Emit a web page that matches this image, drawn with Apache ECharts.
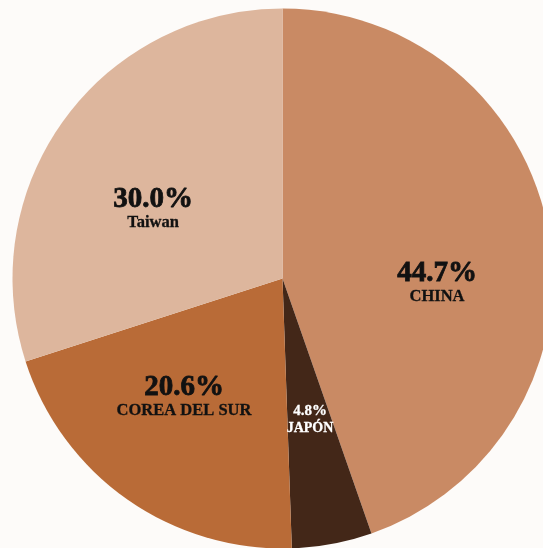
<!DOCTYPE html>
<html>
<head>
<meta charset="utf-8">
<script src="https://cdn.jsdelivr.net/npm/echarts@6/dist/echarts.min.js"></script>
<style>
html,body{margin:0;padding:0;background:#FDFBF9;}
#c{width:543px;height:548px;}
</style>
</head>
<body>
<div id="c"></div>
<script>
const categories = ['CHINA', 'JAPÓN', 'COREA DEL SUR', 'Taiwan'];
const values = [44.7, 4.8, 20.6, 30.0];

const colors = ['#C98A64', '#432718', '#B96B37', '#DDB69D'];
const labelPos = [[437, 283], [310, 419], [184, 397], [153, 209]];

const chart = echarts.init(document.getElementById('c'), null, {renderer: 'canvas'});
const serif = '"Liberation Serif", "Times New Roman", serif';
chart.setOption({
  backgroundColor: '#FDFBF9',
  animation: false,
  series: [{
    type: 'pie',
    center: [282.5, 278.5],
    radius: 270,
    startAngle: 90,
    clockwise: true,
    avoidLabelOverlap: false,
    data: categories.map((n, i) => ({
      name: n,
      value: values[i],
      itemStyle: {color: colors[i]},
      label: i === 1 ? {
        rich: {
          p: {fontFamily: serif, fontWeight: 'bold', fontSize: 15, color: '#FFFFFF', lineHeight: 18, align: 'center', textBorderColor: '#FFFFFF', textBorderWidth: 0.3},
          n: {fontFamily: serif, fontWeight: 'bold', fontSize: 14, color: '#FFFFFF', lineHeight: 16, align: 'center', textBorderColor: '#FFFFFF', textBorderWidth: 0.3}
        }
      } : undefined
    })),
    label: {
      show: true,
      position: 'inside',
      formatter: p => '{p|' + p.value.toFixed(1) + '%}\n{n|' + p.name + '}',
      rich: {
        p: {fontFamily: serif, fontWeight: 'bold', fontSize: 29, color: '#111111', lineHeight: 28, align: 'center', textBorderColor: '#111111', textBorderWidth: 0.8},
        n: {fontFamily: serif, fontWeight: 'bold', fontSize: 16.5, color: '#111111', lineHeight: 18, align: 'center', textBorderColor: '#111111', textBorderWidth: 0.3}
      }
    },
    labelLayout: function (params) {
      const pos = labelPos[params.dataIndex];
      return {x: pos[0], y: pos[1], align: 'center', verticalAlign: 'middle'};
    },
    labelLine: {show: false},
    itemStyle: {borderWidth: 0},
    emphasis: {disabled: true}
  }]
});
</script>
</body>
</html>
